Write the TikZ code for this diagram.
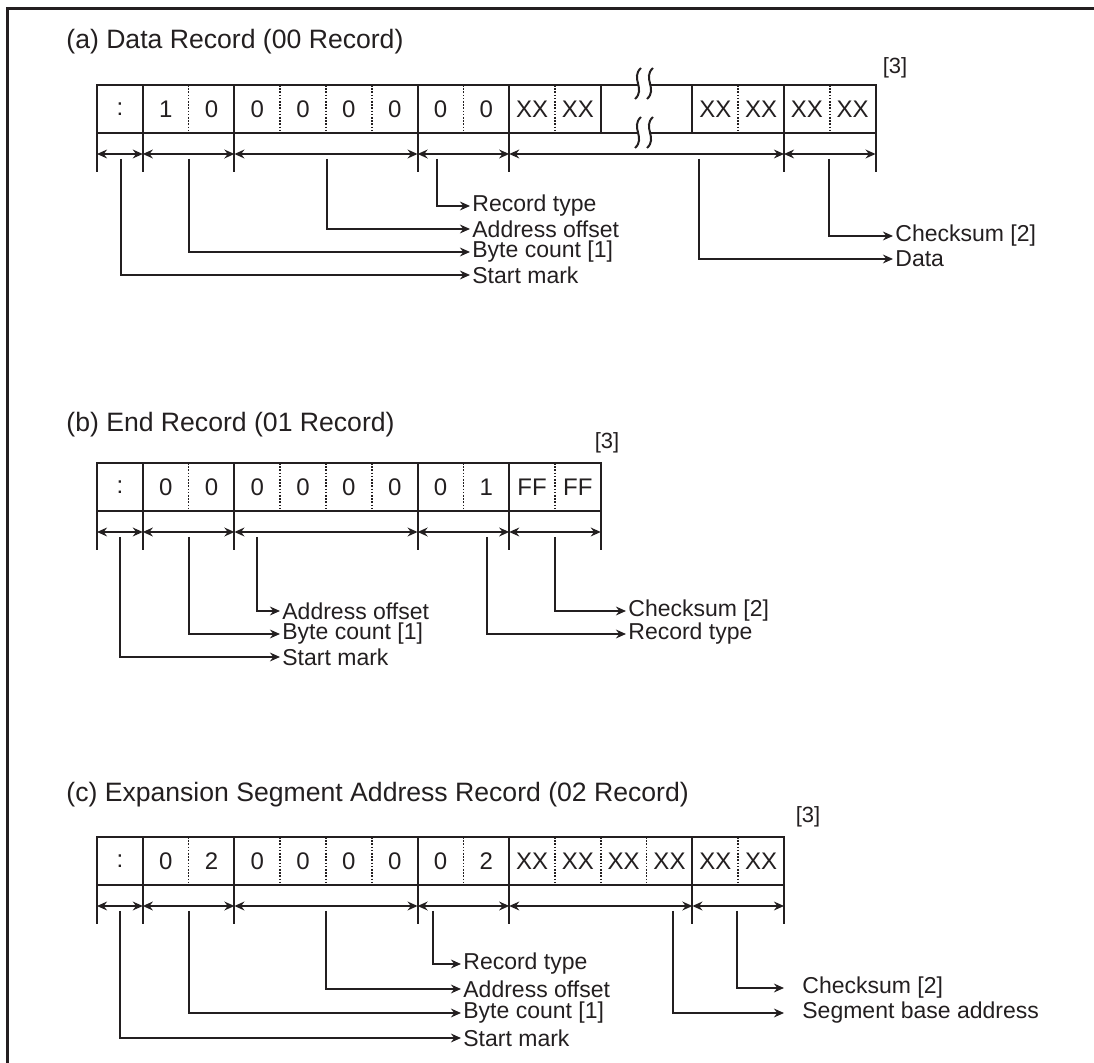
\documentclass[tikz,border=0pt]{standalone}
\usepackage{fontspec}
\setmainfont{Liberation Sans}
\usetikzlibrary{arrows.meta, positioning, calc}
\definecolor{ink}{HTML}{231F20}

\begin{document}
\begin{tikzpicture}[x=0.5pt, y=-0.5pt,
  every node/.style={text=ink},
  cell/.style={inner sep=0pt, font=\fontsize{12}{13}\selectfont},
  boxline/.style={draw=ink, line width=1pt},
  digit/.style={draw=ink, line width=0.8pt, dash pattern=on 0.8pt off 0.8pt},
  tick/.style={draw=ink, line width=1pt},
  dim/.style={{Stealth[length=5pt, width=4.4pt]}-{Stealth[length=5pt, width=4.4pt]}, draw=ink, line width=0.9pt},
  lead/.style={-{Stealth[length=5pt, width=4.4pt]}, draw=ink, line width=0.9pt},
  lbl/.style={anchor=west, inner sep=1pt, font=\fontsize{11.5}{13}\selectfont},
  ttl/.style={anchor=west, inner sep=0pt, font=\fontsize{13.3}{15}\selectfont},
  note/.style={inner sep=0pt, font=\fontsize{11}{13}\selectfont}
]
  \useasboundingbox (0,0) rectangle (1094,1063);
  \draw[ink, line width=1.5pt] (7,1063) |- (1094,9);

  % (a) data record
  \node[ttl] (ta) at (66,42) {(a) Data Record (00 Record)};
  \node[note] (na) at (895,68) {[3]};
  \foreach \t [count=\i from 0] in {:,1,0,0,0,0,0,0,0,XX,XX,,,XX,XX,XX,XX}
    \node[cell] (a\i) at ({97+45.8*\i+22.9},109) {\t};
  \draw[boxline] (97,85) rectangle ({97+45.8*17},133);
  \foreach \k in {1,3,7,9,11,13,15}
    \draw[boxline] ({97+45.8*\k},85) -- ++(0,48);
  \foreach \k in {2,4,5,6,8,10,14,16}
    \draw[digit] ({97+45.8*\k},85) -- ++(0,48);
  \foreach \y in {68,117} {
    \fill[white] (641,\y) .. controls (630,{\y+10}) and (646,{\y+21}) .. (635,{\y+31})
      -- (647,{\y+31}) .. controls (658,{\y+21}) and (642,{\y+10}) .. (653,\y) -- cycle;
    \draw[ink, line width=1pt] (641,\y) .. controls (630,{\y+10}) and (646,{\y+21}) .. (635,{\y+31});
    \draw[ink, line width=1pt] (653,\y) .. controls (642,{\y+10}) and (658,{\y+21}) .. (647,{\y+31});
  }
  \foreach \k in {0,1,3,7,9,15,17} {
    \draw[tick] ({97+45.8*\k},133) -- ++(0,39);
    \coordinate (ad\k) at ({97+45.8*\k},154);
  }
  \foreach \p/\q in {0/1,1/3,3/7,7/9,9/15,15/17}
    \draw[dim] (ad\p) -- (ad\q);

  \node[lbl] (aRt) at (470,206) {Record type};
  \node[lbl] (aAo) at (470,229) {Address offset};
  \node[lbl] (aBc) at (470,252) {Byte count [1]};
  \node[lbl] (aSm) at (470,275) {Start mark};
  \node[lbl] (aCs) at (893,236) {Checksum [2]};
  \node[lbl] (aDt) at (893,259) {Data};
  \coordinate (aRt0) at (437,159);
  \coordinate (aAo0) at (327,159);
  \coordinate (aBc0) at (189,159);
  \coordinate (aSm0) at (121,159);
  \coordinate (aCs0) at (829,159);
  \coordinate (aDt0) at (699,159);
  \foreach \n in {aRt,aAo,aBc,aSm,aCs,aDt}
    \draw[lead] (\n0) |- (\n.west);

  % (b) end record
  \node[ttl] (tb) at (66,425) {(b) End Record (01 Record)};
  \node[note] (nb) at (607,443) {[3]};
  \foreach \t [count=\i from 0] in {:,0,0,0,0,0,0,0,1,FF,FF}
    \node[cell] (b\i) at ({97+45.8*\i+22.9},487) {\t};
  \draw[boxline] (97,463) rectangle ({97+45.8*11},511);
  \foreach \k in {1,3,7,9}
    \draw[boxline] ({97+45.8*\k},463) -- ++(0,48);
  \foreach \k in {2,4,5,6,8,10}
    \draw[digit] ({97+45.8*\k},463) -- ++(0,48);
  \foreach \k in {0,1,3,7,9,11} {
    \draw[tick] ({97+45.8*\k},511) -- ++(0,39);
    \coordinate (bd\k) at ({97+45.8*\k},532);
  }
  \foreach \p/\q in {0/1,1/3,3/7,7/9,9/11}
    \draw[dim] (bd\p) -- (bd\q);

  \node[lbl] (bAo) at (280,611) {Address offset};
  \node[lbl] (bBc) at (280,634) {Byte count [1]};
  \node[lbl] (bSm) at (280,657) {Start mark};
  \node[lbl] (bCs) at (626,611) {Checksum [2]};
  \node[lbl] (bRt) at (626,634) {Record type};
  \coordinate (bAo0) at (257,537);
  \coordinate (bBc0) at (189,537);
  \coordinate (bSm0) at (120,537);
  \coordinate (bCs0) at (555,537);
  \coordinate (bRt0) at (487,537);
  \foreach \n in {bAo,bBc,bSm,bCs,bRt}
    \draw[lead] (\n0) |- (\n.west);

  % (c) expansion segment address record
  \node[ttl] (tc) at (66,795) {(c) Expansion Segment Address Record (02 Record)};
  \node[note] (nc) at (808,817) {[3]};
  \foreach \t [count=\i from 0] in {:,0,2,0,0,0,0,0,2,XX,XX,XX,XX,XX,XX}
    \node[cell] (c\i) at ({97+45.8*\i+22.9},861) {\t};
  \draw[boxline] (97,837) rectangle ({97+45.8*15},885);
  \foreach \k in {1,3,7,9,13}
    \draw[boxline] ({97+45.8*\k},837) -- ++(0,48);
  \foreach \k in {2,4,5,6,8,10,11,12,14}
    \draw[digit] ({97+45.8*\k},837) -- ++(0,48);
  \foreach \k in {0,1,3,7,9,13,15} {
    \draw[tick] ({97+45.8*\k},885) -- ++(0,39);
    \coordinate (cd\k) at ({97+45.8*\k},906);
  }
  \foreach \p/\q in {0/1,1/3,3/7,7/9,9/13,13/15}
    \draw[dim] (cd\p) -- (cd\q);

  \node[lbl] (cRt) at (461,964) {Record type};
  \node[lbl] (cAo) at (461,989) {Address offset};
  \node[lbl] (cBc) at (461,1013) {Byte count [1]};
  \node[lbl] (cSm) at (461,1038) {Start mark};
  \node[lbl] (cCs) at (800,988) {Checksum [2]};
  \node[lbl] (cSb) at (800,1013) {Segment base address};
  \coordinate (cRt0) at (433,911);
  \coordinate (cAo0) at (326,911);
  \coordinate (cBc0) at (189,911);
  \coordinate (cSm0) at (120,911);
  \coordinate (cCs0) at (737,911);
  \coordinate (cSb0) at (673,911);
  \foreach \n in {cRt,cAo,cBc,cSm}
    \draw[lead] (\n0) |- (\n.west);
  \foreach \n in {cCs,cSb}
    \draw[lead, shorten >=8pt] (\n0) |- (\n.west);
\end{tikzpicture}
\end{document}
